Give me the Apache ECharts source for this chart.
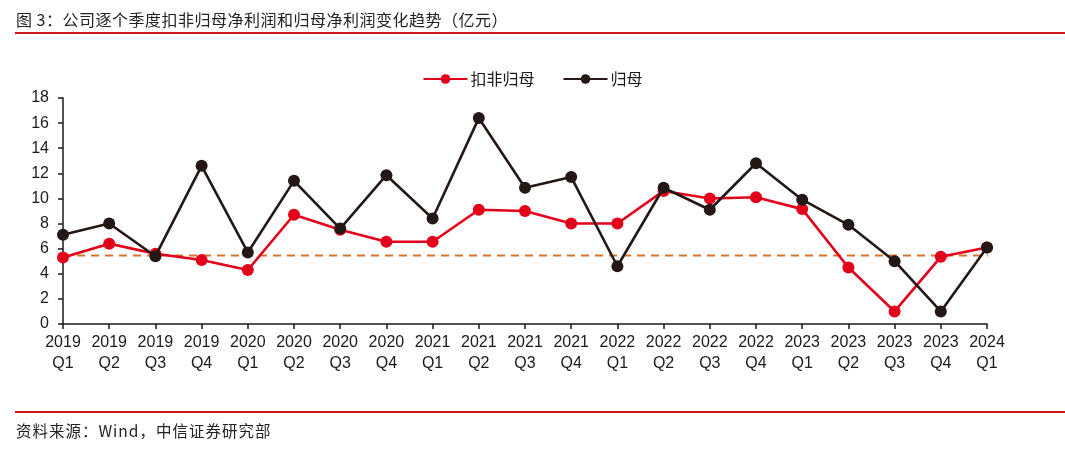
<!DOCTYPE html>
<html>
<head>
<meta charset="utf-8">
<script src="https://cdn.jsdelivr.net/npm/echarts@6/dist/echarts.min.js"></script>
<style>
  html,body{margin:0;padding:0;background:#fff;}
  #wrap{position:relative;width:1065px;height:451px;overflow:hidden;font-family:"Noto Sans CJK SC",sans-serif;}
  #title{position:absolute;left:16px;top:7px;font-size:16px;color:#222;letter-spacing:0.5px;}
  .rule{position:absolute;left:15px;right:0;height:2px;background:#C8161D;}
  #src{position:absolute;left:16px;top:419px;font-size:15.5px;color:#222;letter-spacing:1px;}
  #chart{position:absolute;left:0;top:0;width:1065px;height:451px;}
</style>
</head>
<body>
<div id="wrap">
  <div id="chart"></div>
  <div id="title">图 3：公司逐个季度扣非归母净利润和归母净利润变化趋势（亿元）</div>
  <div class="rule" style="top:32px"></div>
  <div class="rule" style="top:411px;height:1.5px"></div>
  <div id="src">资料来源：Wind，中信证券研究部</div>
</div>
<script>
'use strict';

/* ---------- data ---------- */
const QUARTERS = [
  '2019\nQ1','2019\nQ2','2019\nQ3','2019\nQ4',
  '2020\nQ1','2020\nQ2','2020\nQ3','2020\nQ4',
  '2021\nQ1','2021\nQ2','2021\nQ3','2021\nQ4',
  '2022\nQ1','2022\nQ2','2022\nQ3','2022\nQ4',
  '2023\nQ1','2023\nQ2','2023\nQ3','2023\nQ4',
  '2024\nQ1'
];
// 扣非归母净利润
const KOUFEI = [5.3,6.4,5.6,5.1, 4.3,8.7,7.5,6.55, 6.55,9.1,9.0,8.0, 8.0,10.6,10.0,10.1, 9.15,4.5,1.0,5.35, 6.1];
// 归母净利润
const GUIMU  = [7.1,8.0,5.4,12.6, 5.7,11.4,7.6,11.85, 8.4,16.4,10.85,11.7, 4.6,10.85,9.1,12.8, 9.9,7.9,5.0,1.0, 6.1];
// 参考线（均值）
const REF_LEVEL = 5.45;
const REF_SPAN = [0, 20.9];
const Y_TICKS = {min:0, max:18, interval:2};

/* ---------- style ---------- */
const C = {ink:'#1a1a1a', red:'#E2001A', black:'#231815', ref:'#D9742F'};
const FONT = '"Liberation Sans",Arial,sans-serif';

const chart = echarts.init(document.getElementById('chart'));

function lineSeries(name, data, color, z){
  return {
    name, type:'line', data, z,
    symbol:'circle', symbolSize:12,
    lineStyle:{width:2.6, color},
    itemStyle:{color},
    emphasis:{disabled:true},
  };
}

chart.setOption({
  animation:false,
  grid:{left:63, right:78, top:98, bottom:127, containLabel:false},
  legend:{
    top:66, left:'center',
    itemWidth:44, itemHeight:12, itemGap:28,
    textStyle:{color:C.ink, fontSize:16, fontFamily:'"Noto Sans CJK SC",sans-serif', padding:[0,0,0,-2]},
    data:['扣非归母','归母'],
  },
  xAxis:[{
    type:'category', data:QUARTERS, boundaryGap:false,
    axisLine:{lineStyle:{color:C.ink, width:1.5}},
    axisTick:{show:true, length:5, lineStyle:{color:C.ink, width:1.5}},
    axisLabel:{color:C.ink, fontSize:16, fontFamily:FONT, lineHeight:21, margin:8, interval:0},
    splitLine:{show:false},
  },{
    type:'value', min:0, max:20, show:false,
  }],
  yAxis:{
    type:'value', min:Y_TICKS.min, max:Y_TICKS.max, interval:Y_TICKS.interval,
    axisLine:{show:true, lineStyle:{color:C.ink, width:1.5}},
    axisTick:{show:true, length:5, lineStyle:{color:C.ink, width:1.5}},
    axisLabel:{color:C.ink, fontSize:16, fontFamily:FONT, margin:14},
    splitLine:{show:false},
  },
  series:[
    {
      name:'ref', type:'line', xAxisIndex:1, clip:false, silent:true, z:1,
      data:REF_SPAN.map(x=>[x, REF_LEVEL]),
      symbol:'none',
      lineStyle:{color:C.ref, width:2, type:[8,6]},
    },
    lineSeries('扣非归母', KOUFEI, C.red, 3),
    lineSeries('归母', GUIMU, C.black, 4),
  ],
});
</script>
</body>
</html>
